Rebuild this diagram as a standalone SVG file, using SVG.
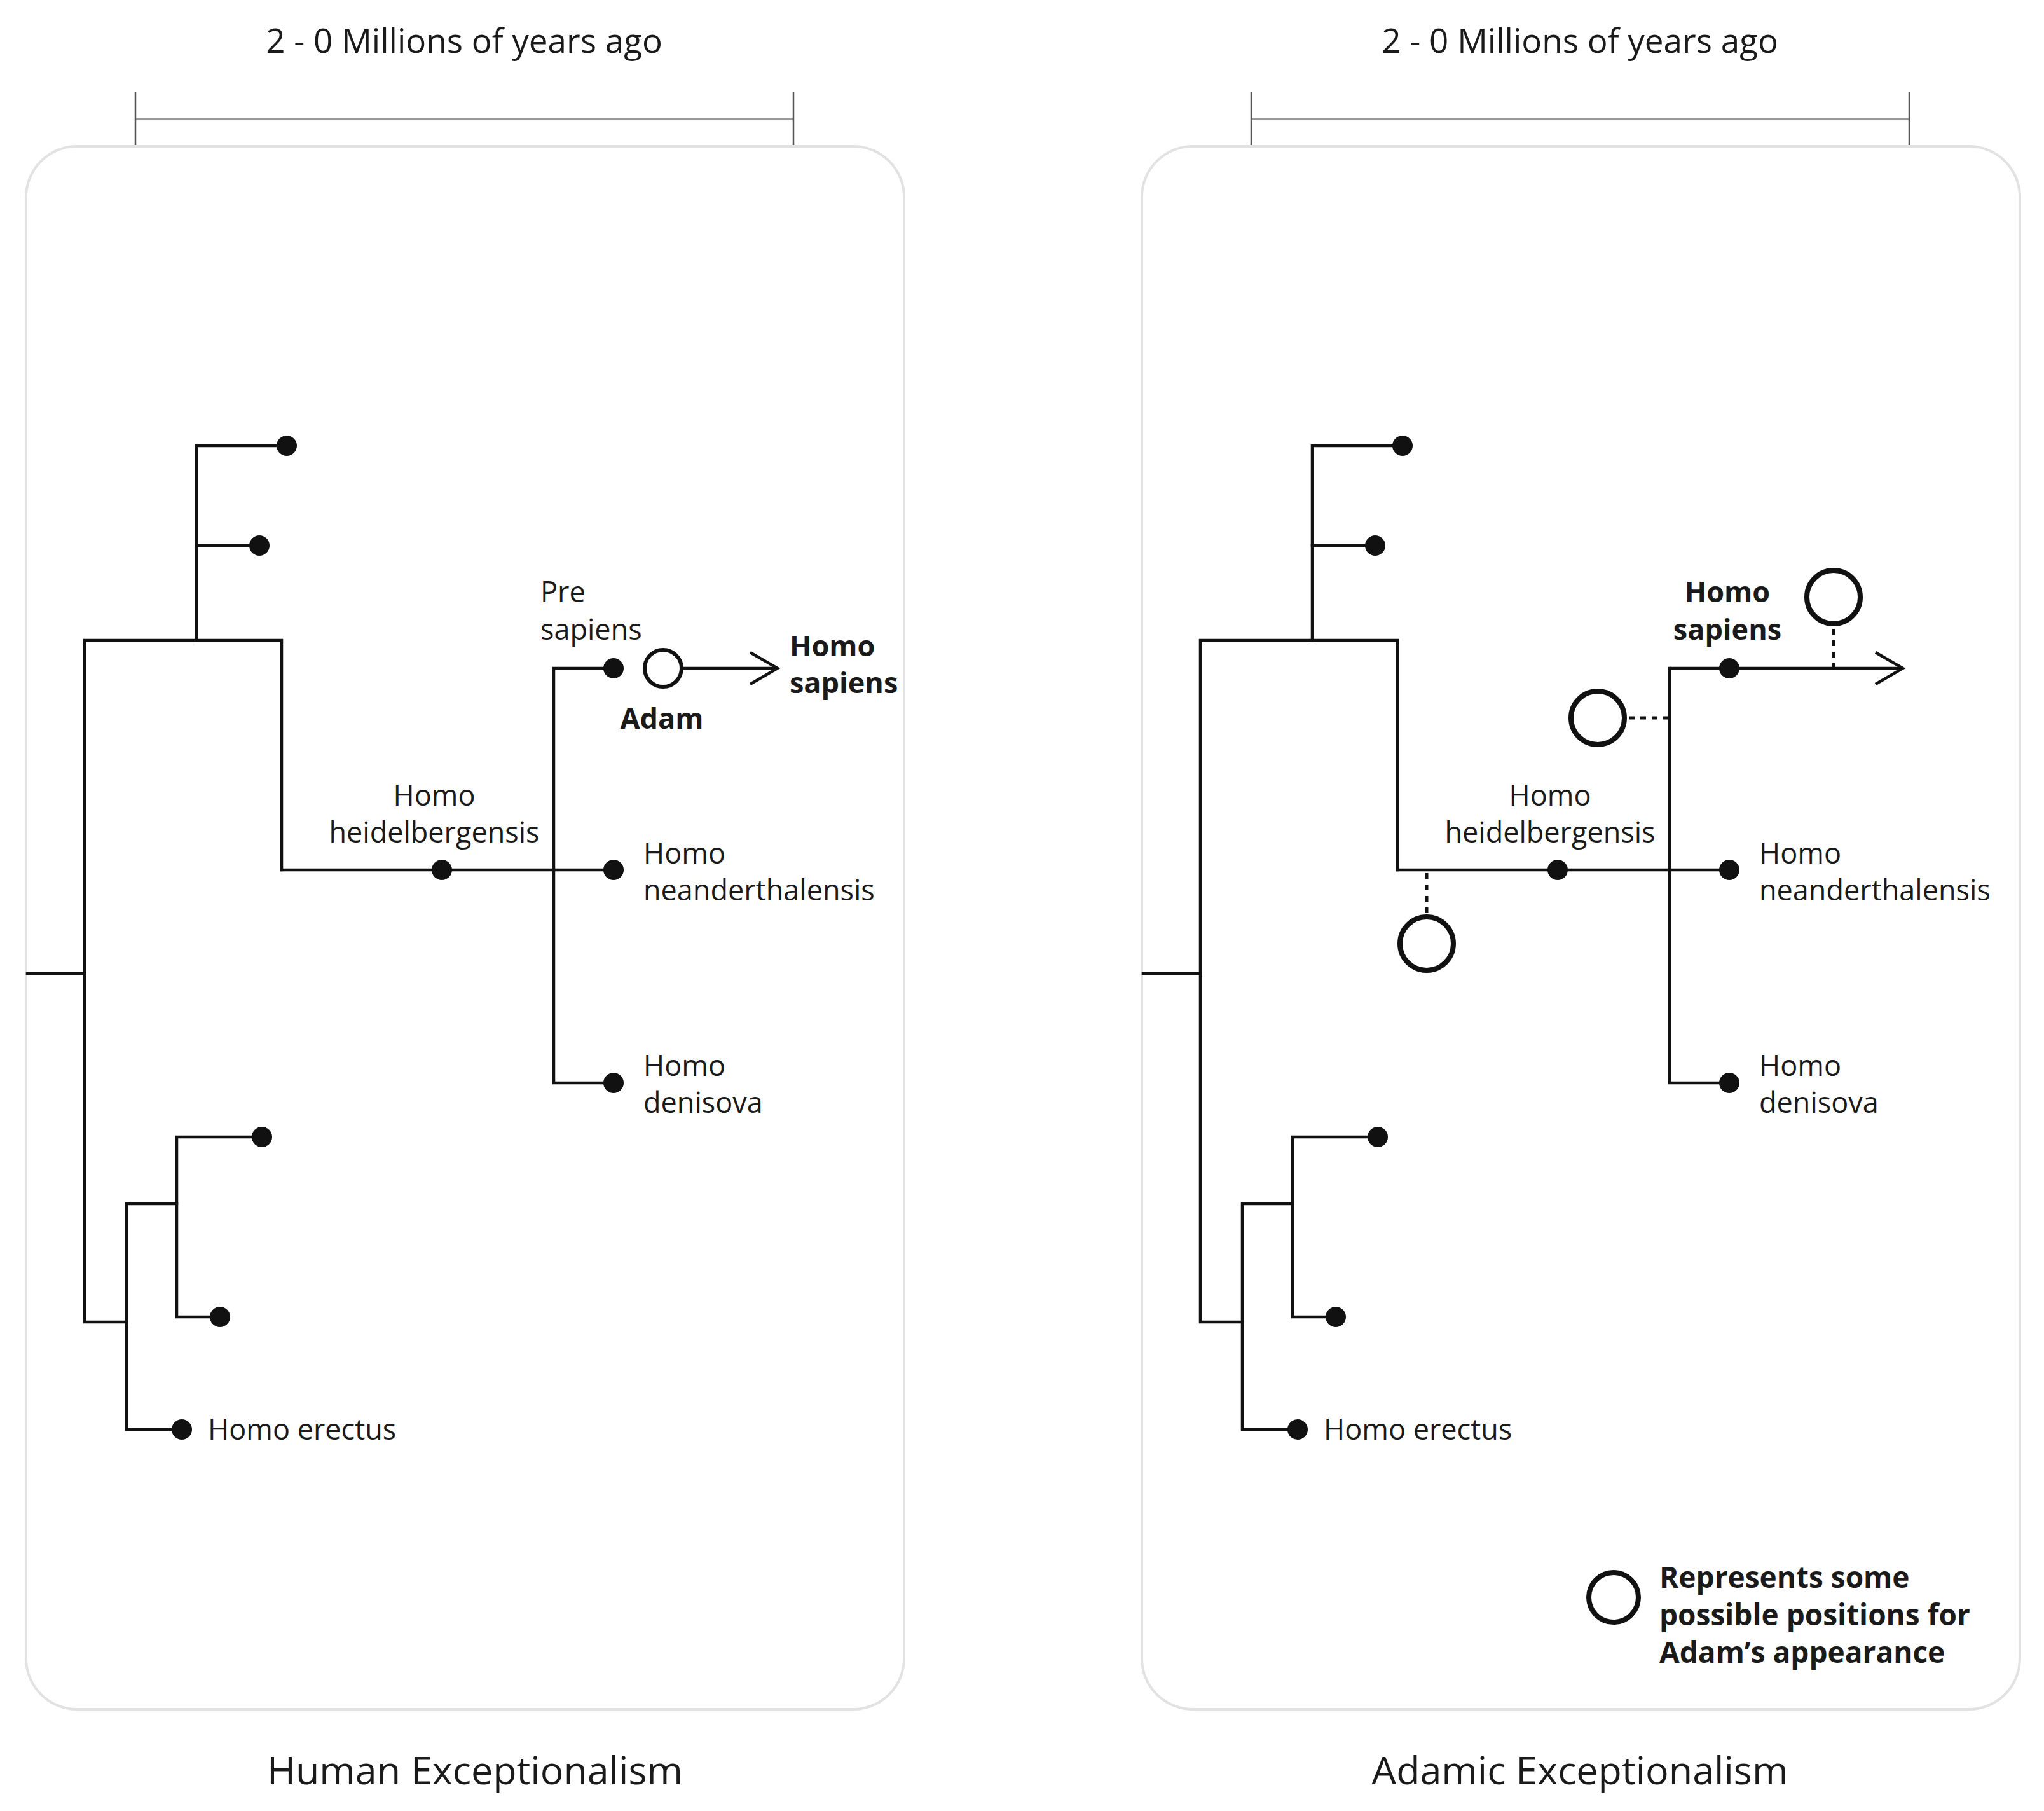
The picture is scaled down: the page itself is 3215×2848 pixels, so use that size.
<svg xmlns="http://www.w3.org/2000/svg" width="3215" height="2848" viewBox="0 0 3215 2848">
<style>
.panel{fill:#fff;stroke:#e2e2e2;stroke-width:4}
.bar{stroke:#9a9a9a;stroke-width:4;fill:none}
.tick{stroke:#555;stroke-width:2.5;fill:none}
.ln{stroke:#111;stroke-width:4.5;fill:none;stroke-linejoin:miter;stroke-linecap:square}
.arr{stroke:#111;stroke-width:4.5;fill:none;marker-end:url(#chev)}
.dotted{stroke:#111;stroke-width:5;fill:none;stroke-dasharray:9 9}
.dot{fill:#111}
.open{fill:#fff;stroke:#111;stroke-width:8}
.adam{fill:#fff;stroke:#111;stroke-width:6}
text{font-family:"Open Sans","Noto Sans","Liberation Sans",sans-serif;fill:#1a1a1a}
.lbl{font-size:45px}
.b{font-weight:700}
.title{font-size:53px}
.cap{font-size:61px}
.leg{font-size:46px;font-weight:700}
</style>
<defs>
<marker id="chev" markerUnits="userSpaceOnUse" markerWidth="50" markerHeight="56" viewBox="0 0 50 56" refX="45" refY="28" orient="auto">
<path d="M2,3 L45,28 L2,53" fill="none" stroke="#111" stroke-width="4.5"/>
</marker>
</defs>
<rect width="3215" height="2848" fill="#fff"/>

<g id="panel-left">
<rect class="panel" x="41" y="230" width="1381" height="2458" rx="80"/>
<line class="bar" x1="213" y1="187" x2="1248" y2="187"/>
<line class="tick" x1="213" y1="144" x2="213" y2="228"/>
<line class="tick" x1="1248" y1="144" x2="1248" y2="228"/>
<text class="title" x="730" y="83" text-anchor="middle">2 - 0 Millions of years ago</text>
<text class="cap" x="747" y="2806" text-anchor="middle">Human Exceptionalism</text>
</g>

<g id="panel-right">
<rect class="panel" x="1796" y="230" width="1381" height="2458" rx="80"/>
<line class="bar" x1="1968" y1="187" x2="3003" y2="187"/>
<line class="tick" x1="1968" y1="144" x2="1968" y2="228"/>
<line class="tick" x1="3003" y1="144" x2="3003" y2="228"/>
<text class="title" x="2485" y="83" text-anchor="middle">2 - 0 Millions of years ago</text>
<text class="cap" x="2485" y="2806" text-anchor="middle">Adamic Exceptionalism</text>
</g>

<g id="connectors">
<path class="ln" d="M43,1531 H133"/>
<path class="ln" d="M443,1368 V1007 H133 V2079 H199"/>
<path class="ln" d="M451,701 H309 V1007"/>
<path class="ln" d="M309,858 H408"/>
<path class="ln" d="M443,1368 H965"/>
<path class="ln" d="M965,1051 H871 V1703 H965"/>
<path class="ln" d="M286,2248 H199 V1893 H278"/>
<path class="ln" d="M412,1788 H278 V2071 H346"/>
<path class="arr" d="M1073,1051 H1223"/>

<path class="ln" d="M1798,1531 H1888"/>
<path class="ln" d="M2198,1368 V1007 H1888 V2079 H1954"/>
<path class="ln" d="M2206,701 H2064 V1007"/>
<path class="ln" d="M2064,858 H2163"/>
<path class="ln" d="M2198,1368 H2720"/>
<path class="ln" d="M2720,1703 H2626 V1051"/>
<path class="arr" d="M2626,1051 H2993"/>
<path class="ln" d="M2041,2248 H1954 V1893 H2033"/>
<path class="ln" d="M2167,1788 H2033 V2071 H2101"/>
<path class="dotted" d="M2884,989 V1049"/>
<path class="dotted" d="M2562,1129 H2624"/>
<path class="dotted" d="M2244,1373 V1437"/>
</g>

<g id="L-top1"><circle class="dot" cx="451" cy="701" r="16"/></g>
<g id="L-top2"><circle class="dot" cx="408" cy="858" r="16"/></g>
<g id="L-heidelbergensis"><circle class="dot" cx="695" cy="1368" r="16"/>
<text class="lbl" x="683" y="1267" text-anchor="middle">Homo</text>
<text class="lbl" x="683" y="1325" text-anchor="middle">heidelbergensis</text></g>
<g id="L-presapiens"><circle class="dot" cx="965" cy="1051" r="16"/>
<text class="lbl" x="850" y="947">Pre</text>
<text class="lbl" x="850" y="1006">sapiens</text></g>
<g id="L-adam"><circle class="adam" cx="1043" cy="1051" r="29"/>
<text class="lbl b" x="1041" y="1146" text-anchor="middle">Adam</text></g>
<g id="L-sapiens"><text class="lbl b" x="1242" y="1032">Homo</text>
<text class="lbl b" x="1242" y="1090">sapiens</text></g>
<g id="L-neanderthalensis"><circle class="dot" cx="965" cy="1368" r="16"/>
<text class="lbl" x="1012" y="1358">Homo</text>
<text class="lbl" x="1012" y="1416">neanderthalensis</text></g>
<g id="L-denisova"><circle class="dot" cx="965" cy="1703" r="16"/>
<text class="lbl" x="1012" y="1692">Homo</text>
<text class="lbl" x="1012" y="1750">denisova</text></g>
<g id="L-bot1"><circle class="dot" cx="412" cy="1788" r="16"/></g>
<g id="L-bot2"><circle class="dot" cx="346" cy="2071" r="16"/></g>
<g id="L-erectus"><circle class="dot" cx="286" cy="2248" r="16"/>
<text class="lbl" x="327" y="2264">Homo erectus</text></g>

<g id="R-top1"><circle class="dot" cx="2206" cy="701" r="16"/></g>
<g id="R-top2"><circle class="dot" cx="2163" cy="858" r="16"/></g>
<g id="R-heidelbergensis"><circle class="dot" cx="2450" cy="1368" r="16"/>
<text class="lbl" x="2438" y="1267" text-anchor="middle">Homo</text>
<text class="lbl" x="2438" y="1325" text-anchor="middle">heidelbergensis</text></g>
<g id="R-sapiens"><circle class="dot" cx="2720" cy="1051" r="16"/>
<text class="lbl b" x="2717" y="947" text-anchor="middle">Homo</text>
<text class="lbl b" x="2717" y="1006" text-anchor="middle">sapiens</text></g>
<g id="R-neanderthalensis"><circle class="dot" cx="2720" cy="1368" r="16"/>
<text class="lbl" x="2767" y="1358">Homo</text>
<text class="lbl" x="2767" y="1416">neanderthalensis</text></g>
<g id="R-denisova"><circle class="dot" cx="2720" cy="1703" r="16"/>
<text class="lbl" x="2767" y="1692">Homo</text>
<text class="lbl" x="2767" y="1750">denisova</text></g>
<g id="R-bot1"><circle class="dot" cx="2167" cy="1788" r="16"/></g>
<g id="R-bot2"><circle class="dot" cx="2101" cy="2071" r="16"/></g>
<g id="R-erectus"><circle class="dot" cx="2041" cy="2248" r="16"/>
<text class="lbl" x="2082" y="2264">Homo erectus</text></g>
<g id="R-adam1"><circle class="open" cx="2884" cy="939" r="42"/></g>
<g id="R-adam2"><circle class="open" cx="2513" cy="1129" r="42"/></g>
<g id="R-adam3"><circle class="open" cx="2244" cy="1484" r="42"/></g>
<g id="R-legend"><circle class="open" cx="2538" cy="2512" r="39"/>
<text class="leg" x="2610" y="2497">Represents some</text>
<text class="leg" x="2610" y="2556">possible positions for</text>
<text class="leg" x="2610" y="2615">Adam’s appearance</text></g>
</svg>
